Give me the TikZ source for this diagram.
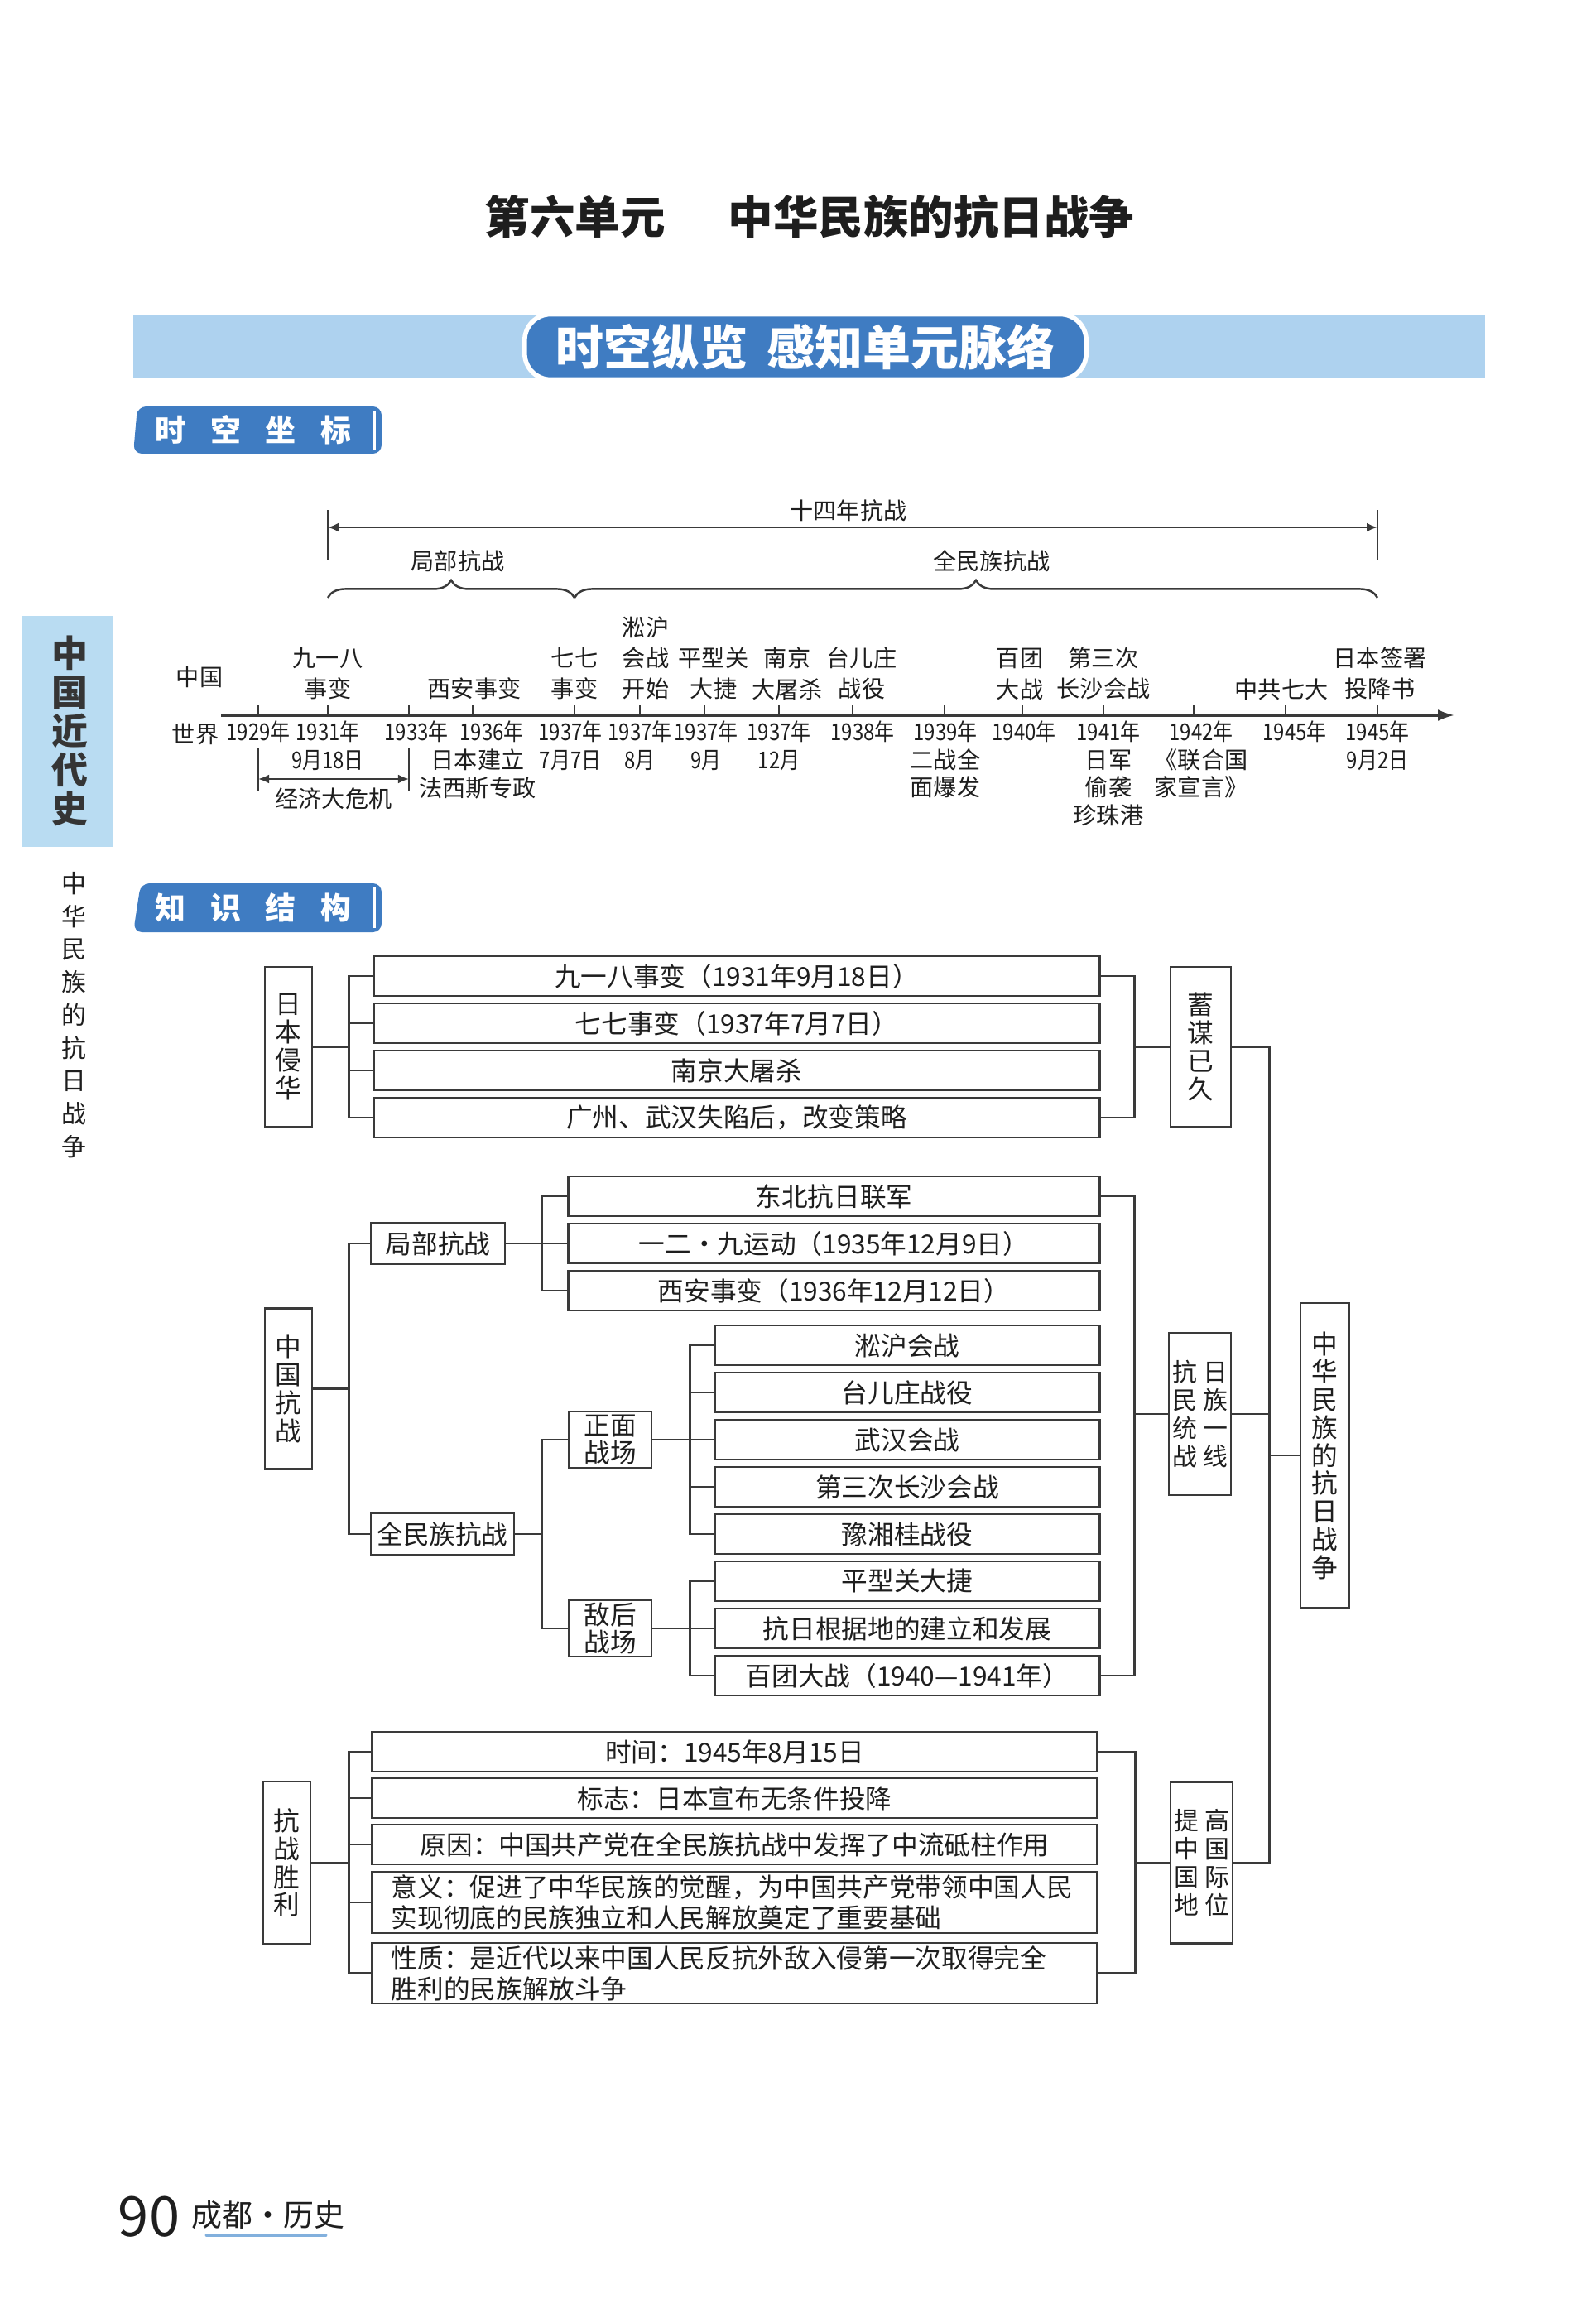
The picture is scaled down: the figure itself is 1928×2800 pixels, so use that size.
\documentclass[tikz,border=0pt]{standalone}
\usepackage{fontspec}
\setmainfont{Noto Sans CJK SC}
\usetikzlibrary{arrows.meta,positioning,calc,decorations.pathreplacing}
\definecolor{bandblue}{HTML}{AED2EF}
\definecolor{tabblue}{HTML}{3F7CC2}
\definecolor{sideblue}{HTML}{B9DCF2}
\definecolor{inkk}{HTML}{1E1E1E}
\definecolor{lineg}{HTML}{3A3A3A}
\newcommand\tlfont{\fontsize{8}{10.6}\selectfont}
\newcommand\dnfont{\fontsize{8}{9.6}\selectfont}
\newcommand\bxfont{\fontsize{9}{10.6}\selectfont}
\newcommand\vtfont{\fontsize{9}{9.6}\selectfont}
\newcommand\yr[1]{\scalebox{0.85}[1]{#1年}}
\newcommand\cz[1]{\scalebox{0.85}[1]{#1}}
\tikzset{
  % timeline labels
  up/.style   = {font=\tlfont, text=inkk, align=center, inner sep=0pt, anchor=south},
  dn/.style   = {font=\dnfont, text=inkk, align=center, inner sep=0pt, anchor=north},
  % tree boxes
  bar/.style  = {draw=lineg, line width=0.8pt, text=inkk, font=\bxfont, inner sep=0pt,
                 minimum width=#1, minimum height=0.48cm},
  bar/.default = 8.76cm,
  hbx/.style  = {draw=lineg, line width=0.8pt, text=inkk, font=\bxfont, inner sep=0pt,
                 minimum height=0.5cm, minimum width=#1},
  vbx/.style  = {draw=lineg, line width=0.8pt, text=inkk, font=\vtfont, inner sep=0pt,
                 align=center, minimum width=#1},
  vbx/.default = 0.57cm,
  ln/.style   = {line width=0.7pt, draw=lineg},
  tk/.style   = {line width=0.7pt, draw=lineg},
  tab/.style  = {fill=tabblue, rounded corners=3pt},
}
\begin{document}
\begin{tikzpicture}[x=0.01cm, y=-0.01cm]
\fill[white] (0,0) rectangle (1928,2800);
\useasboundingbox (0,0) rectangle (1928,2800);

% page head
\node[font=\fontsize{15.5}{18}\selectfont\bfseries, text=inkk] (title) at (978,262)
  {第六单元\hspace{1.4em}中华民族的抗日战争};
\fill[bandblue] (161,380) rectangle (1794,457);
\node[fill=tabblue, draw=white, line width=1.6pt, rounded corners=9pt, minimum width=6.78cm,
      minimum height=0.79cm, inner sep=0pt, text=white,
      font=\fontsize{16.5}{18}\selectfont\bfseries] (band) at (973,419)
  {时空纵览\hspace{0.4em}感知单元脉络};

% side tab
\fill[sideblue] (27,744) rectangle (137,1023);
\node[font=\fontsize{12.5}{13.4}\selectfont\bfseries, text=inkk!90, align=center, inner sep=0pt]
  (side) at (84,883) {中\\国\\近\\代\\史};
\node[font=\fontsize{8.5}{11.3}\selectfont, text=inkk, align=center, inner sep=0pt]
  (sidesub) at (89,1226) {中\\华\\民\\族\\的\\抗\\日\\战\\争};

% section tabs
\fill[tab] (166,491) -- (461,491) -- (461,548) -- (161,548) -- cycle;
\draw[white, line width=1pt] (452,496) -- (452,543);
\node[text=white, font=\fontsize{10.5}{12}\selectfont\bfseries] (sk) at (306,519)
  {时\hspace{0.8em}空\hspace{0.8em}坐\hspace{0.8em}标};
\fill[tab] (170,1067) -- (461,1067) -- (461,1126) -- (161,1126) -- cycle;
\draw[white, line width=1pt] (452,1072) -- (452,1121);
\node[text=white, font=\fontsize{10.5}{12}\selectfont\bfseries] (zs) at (306,1096)
  {知\hspace{0.8em}识\hspace{0.8em}结\hspace{0.8em}构};

% ---------- timeline ----------
\draw[tk] (396,616) -- (396,676);
\draw[tk] (1664,616) -- (1664,676);
\coordinate (wl) at (396,637);
\coordinate (wr) at (1664,637);
\draw[tk, {Latex[length=1.3mm,width=1.1mm]}-{Latex[length=1.3mm,width=1.1mm]}] (wl) -- (wr);
\node[up] (w14) at (1025,631) {十四年抗战};
\node[font=\tlfont, text=inkk] (jb) at (553,678) {局部抗战};
\node[font=\tlfont, text=inkk] (qm) at (1198,678) {全民族抗战};
\draw[tk, decorate, decoration={brace, amplitude=6}] (396,722) -- (694,722);
\draw[tk, decorate, decoration={brace, amplitude=6}] (694,722) -- (1664,722);

\draw[line width=0.9pt, lineg, -{Latex[length=2mm,width=1.4mm]}] (267,864) -- (1757,864);
\foreach \x in {312,396,494,571,694,773,851,941,1030,1141,1235,1333,1442,1553,1664}
  \draw[tk] (\x,864) -- (\x,851);

\node[font=\tlfont, text=inkk] (cn) at (241,818) {中国};
\node[font=\tlfont, text=inkk] (sj) at (236,887) {世界};

\foreach \x/\t [count=\i] in {396/{九一八\\事变}, 573/{西安事变}, 694/{七七\\事变},
    780/{淞沪\\会战\\开始}, 862/{平型关\\大捷}, 951/{南京\\大屠杀}, 1041/{台儿庄\\战役},
    1232/{百团\\大战}, 1333/{第三次\\长沙会战}, 1548/{中共七大}, 1667/{日本签署\\投降书}}
  \node[up] (ev\i) at (\x,846) {\t};

\foreach \x/\t [count=\i] in {312/{\yr{1929}}, 396/{\yr{1931}\\\cz{9月18日}}, 503/{\yr{1933}},
    594/{\yr{1936}}, 689/{\yr{1937}\\\cz{7月7日}}, 773/{\yr{1937}\\\cz{8月}},
    853/{\yr{1937}\\\cz{9月}}, 941/{\yr{1937}\\\cz{12月}}, 1042/{\yr{1938}},
    1142/{\yr{1939}\\二战全\\面爆发}, 1237/{\yr{1940}}, 1339/{\yr{1941}\\日军\\偷袭\\珍珠港},
    1451/{\yr{1942}\\《联合国\\家宣言》}, 1564/{\yr{1945}}, 1664/{\yr{1945}\\\cz{9月2日}}}
  \node[dn] (yr\i) at (\x,870) {\t};
\node[dn] (fxs) at (577,904) {日本建立\\法西斯专政};

% crisis span
\draw[tk] (312,903) -- (312,955);
\draw[tk] (494,903) -- (494,955);
\coordinate (ecl) at (312,941);
\coordinate (ecr) at (494,941);
\draw[tk, {Latex[length=1.3mm,width=1.1mm]}-{Latex[length=1.3mm,width=1.1mm]}] (ecl) -- (ecr);
\node[font=\tlfont, text=inkk] (eco) at (403,965) {经济大危机};

% ---------- knowledge tree ----------
% invasion
\node[vbx, minimum height=1.93cm] (rbqh) at (348.5,1264.5) {日\\本\\侵\\华};
\foreach \t [count=\i] in {九一八事变（1931年9月18日）, 七七事变（1937年7月7日）,
    南京大屠杀, 广州、武汉失陷后，改变策略}
  \node[bar] (a\i) at (890,{1179+57*(\i-1)}) {\t};
\node[vbx=0.73cm, minimum height=1.93cm] (xmyj) at (1450.5,1264.5) {蓄\\谋\\已\\久};
\draw[ln] (rbqh.east) -- ++(43,0) coordinate (j1);
\draw[ln] (a1.west) -| (j1) |- (a4.west);
\foreach \i in {2,3} \draw[ln] (a\i.west) -- (a\i.west -| j1);
\draw[ln] (a1.east) -- ++(41,0) coordinate (k1) -- (k1 |- a4.east) -- (a4.east);
\draw[ln] (xmyj.west) -- (xmyj.west -| k1);

% resistance
\node[vbx, minimum height=1.94cm] (zgkz) at (348.5,1677.5) {中\\国\\抗\\战};
\node[hbx=1.62cm] (jbkz) at (529,1502) {局部抗战};
\node[hbx=1.73cm] (qmkz) at (534.5,1853) {全民族抗战};
\draw[ln] (zgkz.east) -- ++(43,0) coordinate (j2);
\draw[ln] (jbkz.west) -| (j2) |- (qmkz.west);

\foreach \t [count=\i] in {东北抗日联军, 一二·九运动（1935年12月9日）, 西安事变（1936年12月12日）}
  \node[bar=6.41cm] (b\i) at (1007.5,{1445+57*(\i-1)}) {\t};
\draw[ln] (jbkz.east) -- ++(43,0) coordinate (j3);
\draw[ln] (b1.west) -| (j3) |- (b3.west);
\draw[ln] (j3) -- (b2.west);

\node[vbx=1.0cm, minimum height=0.68cm] (zmzc) at (737,1739) {正面\\战场};
\node[vbx=1.0cm, minimum height=0.68cm] (dhzc) at (737,1967) {敌后\\战场};
\draw[ln] (qmkz.east) -- ++(32,0) coordinate (j4);
\draw[ln] (zmzc.west) -| (j4) |- (dhzc.west);

\foreach \t [count=\i] in {淞沪会战, 台儿庄战役, 武汉会战, 第三次长沙会战, 豫湘桂战役,
    平型关大捷, 抗日根据地的建立和发展, 百团大战（1940—1941年）}
  \node[bar=4.64cm] (c\i) at (1096,{1625+57*(\i-1)}) {\t};
\draw[ln] (zmzc.east) -- ++(45,0) coordinate (j5);
\draw[ln] (c1.west) -| (j5) |- (c5.west);
\foreach \i in {2,3,4} \draw[ln] (c\i.west) -- (c\i.west -| j5);
\draw[ln] (dhzc.east) -- ++(45,0) coordinate (j6);
\draw[ln] (c6.west) -| (j6) |- (c8.west);
\draw[ln] (c7.west) -- (c7.west -| j6);

\node[vbx=0.75cm, minimum height=1.96cm, font=\fontsize{8.5}{9.6}\selectfont] (kmtz) at (1449.5,1708)
  {抗\hspace{2pt}日\\民\hspace{2pt}族\\统\hspace{2pt}一\\战\hspace{2pt}线};
\draw[ln] (b1.east) -- ++(41,0) coordinate (k2) -- (k2 |- c8.east) -- (c8.east);
\draw[ln] (kmtz.west) -- (kmtz.west -| k2);

% victory
\node[vbx, minimum height=1.96cm] (kzsl) at (346.5,2250) {抗\\战\\胜\\利};
\node[bar=8.75cm] (d1) at (887.5,2116) {时间：1945年8月15日};
\node[bar=8.75cm] (d2) at (887.5,2172) {标志：日本宣布无条件投降};
\node[bar=8.75cm] (d3) at (887.5,2228) {原因：中国共产党在全民族抗战中发挥了中流砥柱作用};
\node[bar=8.75cm, minimum height=0.74cm, align=left, text width=8.29cm] (d4) at (887.5,2298)
  {意义：促进了中华民族的觉醒，为中国共产党带领中国人民\\实现彻底的民族独立和人民解放奠定了重要基础};
\node[bar=8.75cm, minimum height=0.73cm, align=left, text width=8.29cm] (d5) at (887.5,2383.5)
  {性质：是近代以来中国人民反抗外敌入侵第一次取得完全\\胜利的民族解放斗争};
\draw[ln] (kzsl.east) -- ++(45,0) coordinate (j7);
\draw[ln] (d1.west) -| (j7) |- (d5.west);
\foreach \i in {2,3,4} \draw[ln] (d\i.west) -- (d\i.west -| j7);
\node[vbx=0.75cm, minimum height=1.95cm, font=\fontsize{8.5}{9.6}\selectfont] (tgdw) at (1451.5,2250)
  {提\hspace{2pt}高\\中\hspace{2pt}国\\国\hspace{2pt}际\\地\hspace{2pt}位};
\draw[ln] (d1.east) -- ++(45,0) coordinate (k3) -- (k3 |- d5.east) -- (d5.east);
\draw[ln] (tgdw.west) -- (tgdw.west -| k3);

% whole theme
\node[vbx=0.59cm, minimum height=3.68cm] (zhmz) at (1600.5,1758)
  {中\\华\\民\\族\\的\\抗\\日\\战\\争};
\draw[ln] (xmyj.east) -- ++(45,0) coordinate (m1) -- (m1 |- tgdw.east) -- (tgdw.east);
\draw[ln] (kmtz.east) -- (kmtz.east -| m1);
\draw[ln] (zhmz.west) -- (zhmz.west -| m1);

% page foot
\node[font=\fontsize{19}{20}\selectfont, text=inkk, inner sep=0pt] (pg) at (180,2678) {90};
\node[font=\fontsize{10.5}{12}\selectfont, text=inkk, inner sep=0pt] (bk) at (324,2676) {成都·历史};
\draw[line width=1.4pt, bandblue!60!tabblue, line cap=round] (250,2700) -- (393,2700);
\end{tikzpicture}
\end{document}
